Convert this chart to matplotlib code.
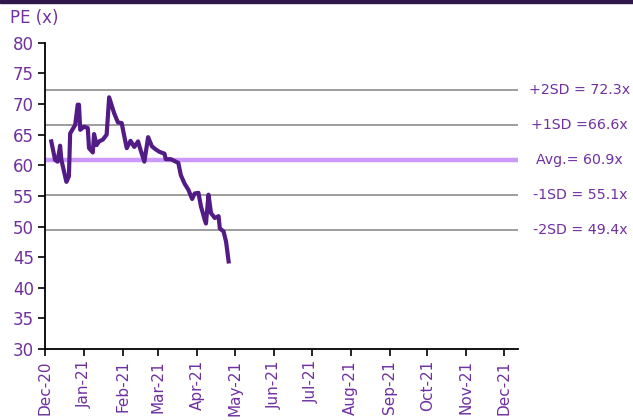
import matplotlib
matplotlib.use("Agg")
import matplotlib.pyplot as plt
import matplotlib.dates as mdates
import pandas as pd

# PE series
dates = ["2020-12-06", "2020-12-09", "2020-12-11", "2020-12-13", "2020-12-14",
         "2020-12-18", "2020-12-20", "2020-12-21", "2020-12-25", "2020-12-27",
         "2020-12-28", "2020-12-29", "2021-01-01", "2021-01-04", "2021-01-05",
         "2021-01-08", "2021-01-09", "2021-01-11", "2021-01-13", "2021-01-16",
         "2021-01-19", "2021-01-20", "2021-01-21", "2021-01-25", "2021-01-28",
         "2021-01-31", "2021-02-01", "2021-02-04", "2021-02-07", "2021-02-10",
         "2021-02-13", "2021-02-15", "2021-02-18", "2021-02-21", "2021-02-24",
         "2021-02-27", "2021-03-02", "2021-03-06", "2021-03-07", "2021-03-11",
         "2021-03-15", "2021-03-17", "2021-03-19", "2021-03-22", "2021-03-25",
         "2021-03-28", "2021-03-30", "2021-04-02", "2021-04-04", "2021-04-07",
         "2021-04-08", "2021-04-10", "2021-04-12", "2021-04-15", "2021-04-18",
         "2021-04-19", "2021-04-22", "2021-04-24", "2021-04-26"]
pe = [63.9, 60.9, 60.6, 63.2, 60.9, 57.3, 58.2, 65.2, 66.6, 69.9,
      69.9, 65.8, 66.3, 66.1, 62.8, 62.1, 65.1, 63.3, 63.9, 64.2,
      65.0, 68.0, 71.1, 68.5, 67.0, 66.9, 65.8, 62.8, 64.0, 63.0,
      63.9, 62.5, 60.6, 64.6, 63.1, 62.6, 62.2, 61.9, 61.0, 61.0,
      60.6, 60.4, 58.4, 57.0, 56.0, 54.5, 55.4, 55.5, 53.3, 51.1,
      50.5, 55.2, 52.2, 51.4, 51.7, 49.7, 49.2, 47.5, 44.3]

band_labels = ["+2SD = 72.3x", "+1SD =66.6x", "Avg.= 60.9x", "-1SD = 55.1x", "-2SD = 49.4x"]
band_values = [72.3, 66.6, 60.9, 55.1, 49.4]

purple_txt = "#7030A0"
line_col = "#521B85"

x = pd.to_datetime(dates)

fig = plt.figure(figsize=(6.33, 4.2), dpi=100)
ax = fig.add_axes([0.0711, 0.169, 0.747, 0.729])

for lab, v in zip(band_labels, band_values):
    if lab.startswith("Avg"):
        ax.axhline(v, color="#CC99FF", lw=3.2, zorder=2)
    else:
        ax.axhline(v, color="#8C8C8C", lw=1.2, zorder=1)

ax.plot(x, pe, color=line_col, lw=3, zorder=3)

ax.set_ylim(30, 80)
ax.set_yticks(range(30, 81, 5))
ax.set_xlim(pd.Timestamp("2020-12-01"), pd.Timestamp("2021-12-12"))
ticks = pd.date_range("2020-12-01", "2021-12-01", freq="MS")
ax.set_xticks(ticks)
ax.xaxis.set_major_formatter(mdates.DateFormatter("%b-%y"))

for s in ["top", "right"]:
    ax.spines[s].set_visible(False)
ax.spines["left"].set_linewidth(1.3)
ax.spines["bottom"].set_linewidth(1.3)
ax.tick_params(axis="y", direction="out", length=5, width=1.2, labelsize=12,
               labelcolor=purple_txt, pad=3)
ax.tick_params(axis="x", direction="out", length=5, width=1.2, labelsize=11,
               labelcolor=purple_txt, rotation=90, pad=3)

# labels on the right side, at the height of each line
lab_x = 1.0 + (580 - 518) / (0.747 * 633)
for lab, v in zip(band_labels, band_values):
    ax.text(lab_x, v, lab, transform=ax.get_yaxis_transform(),
            ha="center", va="center", fontsize=10.2, color=purple_txt, clip_on=False)

fig.text(10 / 633, 1 - 18 / 420, "PE (x)", fontsize=12, color=purple_txt,
         ha="left", va="center")

# dark band at top of the figure
fig.patches.append(plt.Rectangle((0, 1 - 3 / 420), 1, 3 / 420, transform=fig.transFigure,
                                 color="#2E1A4A", zorder=10))

fig.savefig("out.png", dpi=100)
